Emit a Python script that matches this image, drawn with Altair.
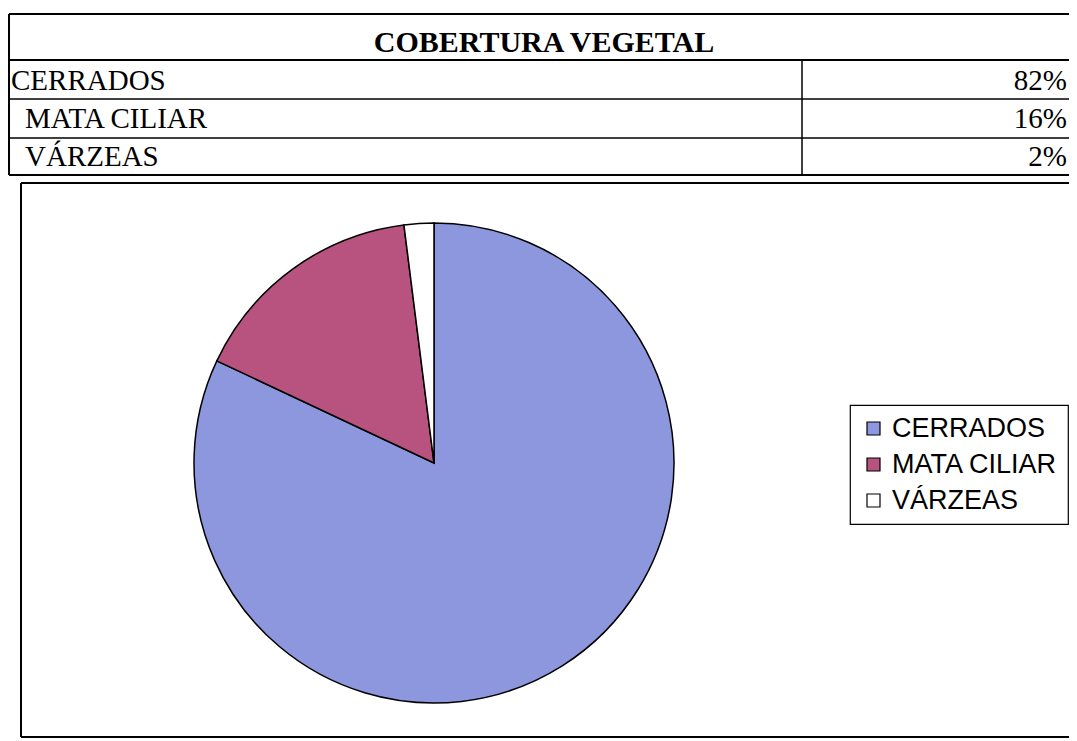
import altair as alt
import pandas as pd

# ---- data ----
title_text = "COBERTURA VEGETAL"
categories = ["CERRADOS", "MATA CILIAR", "VÁRZEAS"]
table_labels = ["CERRADOS", "MATA CILIAR", "VÁRZEAS"]
indented = [False, True, True]
shares = [82, 16, 2]
share_labels = ["82%", "16%", "2%"]
slice_colors = ["#8C97DD", "#B8527F", "#FFFFFF"]

df = pd.DataFrame({
    "cat": categories,
    "label": table_labels,
    "indent": indented,
    "pct": shares,
    "pct_label": share_labels,
    "ord": list(range(len(categories))),
})
one = pd.DataFrame({"title": [title_text]})

SERIF = "Liberation Serif"
SANS = "Liberation Sans"

def hline(y, x1, x2, w=2.0):
    return alt.Chart(one).mark_rule(color="black", strokeWidth=w).encode(
        x=alt.value(x1), x2=alt.value(x2), y=alt.value(y))

def vline(x, y1, y2, w=1.5):
    return alt.Chart(one).mark_rule(color="black", strokeWidth=w).encode(
        x=alt.value(x), y=alt.value(y1), y2=alt.value(y2))

# table frame and row lines
table_lines = [
    hline(6, 1, 1070),
    hline(52, 1, 1070),
    hline(91, 1, 1070, 1.5),
    hline(130, 1, 1070, 1.5),
    hline(167, 1, 1070),
    vline(1, 6, 167, 2),
    vline(794, 52, 167),
]

title_layer = alt.Chart(one).mark_text(
    font=SERIF, fontSize=30, fontWeight="bold", align="center",
    baseline="alphabetic", color="black"
).encode(x=alt.value(536), y=alt.value(44), text="title:N")

yrow = alt.Y("cat:N", scale=alt.Scale(domain=categories, range=[82, 158], padding=0), axis=None)

label_flush = alt.Chart(df).transform_filter("!datum.indent").mark_text(
    font=SERIF, fontSize=29, align="left", baseline="alphabetic", color="black"
).encode(x=alt.value(3), y=yrow, text="label:N")

label_indent = alt.Chart(df).transform_filter("datum.indent").mark_text(
    font=SERIF, fontSize=29, align="left", baseline="alphabetic", color="black"
).encode(x=alt.value(17), y=yrow, text="label:N")

pct_layer = alt.Chart(df).mark_text(
    font=SERIF, fontSize=29, align="right", baseline="alphabetic", color="black"
).encode(x=alt.value(1059), y=yrow, text="pct_label:N")

# chart box
box = [
    hline(175, 13, 1070),
    hline(729, 13, 1070),
    vline(13, 175, 729, 2),
]

pie = alt.Chart(df).mark_arc(
    radius=240, stroke="black", strokeWidth=1.5
).encode(
    x=alt.value(426), y=alt.value(455),
    theta=alt.Theta("pct:Q", stack=True),
    order=alt.Order("ord:Q"),
    color=alt.Color(
        "cat:N",
        scale=alt.Scale(domain=categories, range=slice_colors),
        legend=alt.Legend(
            title=None, orient="none", legendX=842, legendY=397,
            symbolType="square", symbolSize=169,
            symbolStrokeColor="black", symbolStrokeWidth=1.2,
            labelFont=SANS, labelFontSize=27, labelColor="black",
            labelOffset=5, labelLimit=400, rowPadding=8, padding=10,
            strokeColor="black",
        ),
    ),
)

chart = alt.layer(
    *table_lines, title_layer, label_flush, label_indent, pct_layer, *box, pie
).properties(
    width=1061, height=733, padding=0, autosize="none", background="white"
).configure_view(stroke=None).configure_legend(strokeWidth=1.2)

chart.save("out.html", embed_options={"renderer": "svg", "actions": False})
